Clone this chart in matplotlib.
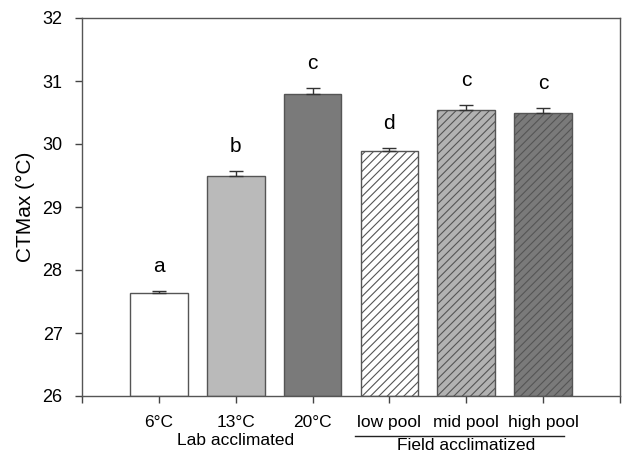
import matplotlib
matplotlib.use('Agg')
import matplotlib.pyplot as plt
import numpy as np

categories = ['6°C', '13°C', '20°C', 'low pool', 'mid pool', 'high pool']
means = [27.63, 29.50, 30.80, 29.89, 30.54, 30.50]
errors = [0.04, 0.07, 0.09, 0.05, 0.08, 0.07]
letters = ['a', 'b', 'c', 'd', 'c', 'c']
fills = ['#ffffff', '#bababa', '#7a7a7a', '#ffffff', '#b2b2b2', '#7a7a7a']
hatches = ['', '', '', '////', '////', '////']

plt.rcParams['font.family'] = ['Liberation Sans', 'DejaVu Sans']
plt.rcParams['hatch.color'] = '#505050'
plt.rcParams['hatch.linewidth'] = 0.8

fig = plt.figure(figsize=(6.23, 4.53), dpi=100)
ax = fig.add_axes([82 / 623, 1 - 396 / 453, (620 - 82) / 623, (396 - 18) / 453])

x = np.arange(1, len(categories) + 1)
for xi, m, e, c, h in zip(x, means, errors, fills, hatches):
    ax.bar(xi, m - 26, bottom=26, width=0.75, color=c, edgecolor='#555555',
           linewidth=1.0, hatch=h, zorder=2)
    ax.errorbar(xi, m, yerr=[[0], [e]], fmt='none', ecolor='#333333',
                elinewidth=1.0, capsize=5, capthick=1.0, zorder=3)

for xi, m, e, t in zip(x, means, errors, letters):
    ax.text(xi, m + e + 0.30, t, ha='center', va='baseline', fontsize=15)

ax.set_xlim(0, 7)
ax.set_ylim(26, 32)
ax.set_yticks(np.arange(26, 33, 1))
ax.set_xticks(np.arange(0, 8))
ax.set_xticklabels([''] + categories + [''], fontsize=12.5)
ax.tick_params(axis='both', direction='out', length=5, color='#444444', width=1.0)
ax.tick_params(axis='x', pad=9)
ax.tick_params(axis='y', labelsize=13, pad=9)
for sp in ax.spines.values():
    sp.set_color('#555555')
    sp.set_linewidth(1.0)
ax.set_ylabel('CTMax (°C)', fontsize=15)
ax.yaxis.set_label_coords(-0.087, 0.5)

# group labels under the x axis
ax.text(2, -0.117, 'Lab acclimated', transform=ax.get_xaxis_transform(),
        ha='center', va='center', fontsize=12.5)
ax.text(5, -0.13, 'Field acclimatized', transform=ax.get_xaxis_transform(),
        ha='center', va='center', fontsize=12.5)
ax.plot([3.55, 6.27], [-0.106, -0.106], transform=ax.get_xaxis_transform(),
        color='#222222', linewidth=1.0, clip_on=False)

fig.savefig('out.png', dpi=100)
